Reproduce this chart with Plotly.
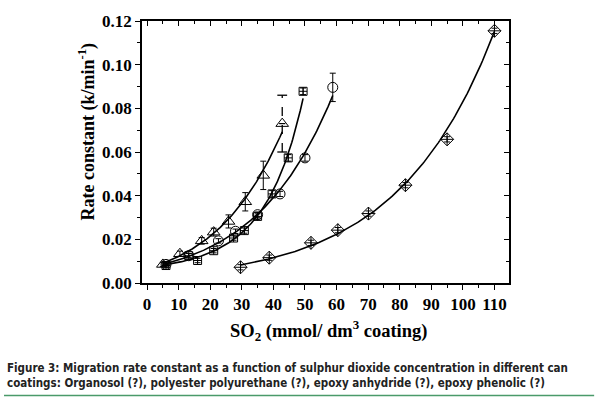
import numpy as np
import plotly.graph_objects as go

# ---- data ----
tri_x = [5.0, 10.4, 17.3, 21.1, 25.8, 31.1, 36.8, 42.8]
tri_y = [0.0085, 0.0134, 0.0193, 0.0233, 0.0282, 0.0372, 0.0493, 0.0730]
tri_e = [0.001, 0.0012, 0.0015, 0.0018, 0.003, 0.0042, 0.0065, 0.013]

sq_x = [6.0, 13.2, 16.0, 21.1, 27.4, 30.8, 35.0, 39.6, 44.7, 49.4]
sq_y = [0.0080, 0.0125, 0.0103, 0.0148, 0.0206, 0.0240, 0.0305, 0.0408, 0.0573, 0.0878]
sq_e = [0.001, 0.001, 0.001, 0.001, 0.001, 0.0012, 0.0012, 0.0015, 0.0015, 0.0015]

ci_x = [6.0, 13.2, 22.6, 28.0, 35.0, 42.1, 50.0, 58.8]
ci_y = [0.0085, 0.0125, 0.0193, 0.0237, 0.0313, 0.0408, 0.0573, 0.0896]
ci_e = [0.0008, 0.001, 0.001, 0.001, 0.0012, 0.0012, 0.0015, 0.0065]

di_x = [29.6, 38.7, 51.9, 60.4, 70.1, 81.8, 95.0, 110.0]
di_y = [0.0072, 0.0116, 0.0184, 0.0242, 0.0318, 0.0448, 0.0658, 0.1155]
di_e = [0.0012, 0.0012, 0.0012, 0.0012, 0.0012, 0.0012, 0.0012, 0.0012]

x_ticks = [0, 10, 20, 30, 40, 50, 60, 70, 80, 90, 100, 110]
y_ticks = [0.00, 0.02, 0.04, 0.06, 0.08, 0.10, 0.12]

SERIF = "Liberation Serif, Times New Roman, serif"
NARROW = "DejaVu Sans Condensed, Liberation Sans Narrow, Arial Narrow, sans-serif"
fig = go.Figure()


def fit_curve(xs, ys, x0, x1, deg):
    c = np.polyfit(np.array(xs), np.log(np.array(ys)), deg)
    xx = np.linspace(x0, x1, 150)
    return xx, np.exp(np.polyval(c, xx))


curves = [
    (tri_x, tri_y, 5.0, tri_x[-1], 2),
    (sq_x, sq_y, 5.0, sq_x[-1], 2),
    (ci_x, ci_y, 5.0, ci_x[-1], 2),
    (di_x, di_y, di_x[0], di_x[-1], 1),
]
for xs, ys, a0, a1, deg in curves:
    xx, yy = fit_curve(xs, ys, a0, a1, deg)
    fig.add_trace(go.Scatter(x=xx, y=yy, mode="lines",
                             line=dict(color="black", width=1.6),
                             hoverinfo="skip", showlegend=False))

# dashed error bar of the last triangle point
fig.add_trace(go.Scatter(x=[tri_x[-1], tri_x[-1]],
                         y=[tri_y[-1] - tri_e[-1], tri_y[-1] + tri_e[-1]],
                         mode="lines+markers",
                         line=dict(color="black", width=1.3, dash="dash"),
                         marker=dict(symbol="line-ew", size=7, color="black",
                                     line=dict(color="black", width=1.3)),
                         showlegend=False))

tri_err = tri_e[:-1] + [0]


def pts(xs, ys, es, sym, size):
    fig.add_trace(go.Scatter(
        x=xs, y=ys, mode="markers",
        marker=dict(symbol=sym, size=size, color="black",
                    line=dict(color="black", width=1)),
        error_y=dict(type="data", array=es, visible=True, color="black",
                     thickness=1, width=3),
        showlegend=False))


pts(sq_x, sq_y, sq_e, "square-cross-open", 8)
pts(ci_x, ci_y, ci_e, "circle-open", 10)
pts(di_x, di_y, di_e, "diamond-cross-open", 10)
pts(tri_x, tri_y, tri_err, "triangle-up-open", 11)

# invisible trace for the mirrored (inside-tick) axes
fig.add_trace(go.Scatter(x=[0], y=[0], xaxis="x2", yaxis="y2",
                         mode="markers", marker=dict(opacity=0),
                         showlegend=False, hoverinfo="skip"))

XR = [-1.6, 114.6]
YR = [0, 0.12]
axis_font = dict(family=SERIF, size=17, color="black", weight="bold")
fig.update_layout(
    width=600, height=404,
    margin=dict(l=142, r=91, t=15, b=121),
    paper_bgcolor="white", plot_bgcolor="white",
    xaxis=dict(range=XR, tickvals=x_ticks, ticks="outside", ticklen=5,
               tickwidth=1.2, tickcolor="black", showline=True,
               linecolor="black", linewidth=1.5, showgrid=False,
               zeroline=False, tickfont=axis_font,
               minor=dict(dtick=5, tick0=0, ticks="outside", ticklen=3,
                          tickcolor="black")),
    yaxis=dict(range=YR, tickvals=y_ticks, tickformat=".2f", ticks="outside",
               ticklen=5, tickwidth=1.2, tickcolor="black", showline=True,
               linecolor="black", linewidth=1.5, showgrid=False,
               zeroline=False, tickfont=axis_font,
               minor=dict(dtick=0.01, tick0=0, ticks="outside", ticklen=3,
                          tickcolor="black")),
    xaxis2=dict(range=XR, overlaying="x", side="top", anchor="y",
                tickvals=x_ticks, ticks="inside", ticklen=5, tickcolor="black",
                showticklabels=False, showline=True, linecolor="black",
                linewidth=1.5, showgrid=False, zeroline=False,
                minor=dict(dtick=5, tick0=0, ticks="inside", ticklen=3,
                           tickcolor="black")),
    yaxis2=dict(range=YR, overlaying="y", side="right", anchor="x",
                tickvals=y_ticks, ticks="inside", ticklen=5, tickcolor="black",
                showticklabels=False, showline=True, linecolor="black",
                linewidth=1.5, showgrid=False, zeroline=False,
                minor=dict(dtick=0.01, tick0=0, ticks="inside", ticklen=3,
                           tickcolor="black")),
)

# axis titles
fig.add_annotation(xref="paper", yref="paper", x=0.507, y=-0.183,
                   xanchor="center", yanchor="middle", showarrow=False,
                   text="<b>SO<sub>2</sub> (mmol/ dm<sup>3</sup> coating)</b>",
                   font=dict(family=SERIF, size=18.5, color="black"))
fig.add_annotation(xref="paper", yref="paper", x=-0.150, y=0.578,
                   xanchor="center", yanchor="middle", showarrow=False,
                   textangle=-90,
                   text="<b>Rate constant (k/min<sup>-1</sup>)</b>",
                   font=dict(family=SERIF, size=18, color="black"))

# caption
fig.add_annotation(
    xref="paper", yref="paper", x=-0.373, y=-0.354, xanchor="left",
    yanchor="middle", align="left", showarrow=False,
    text=("<b>Figure 3: Migration rate constant as a function of sulphur dioxide concentration in different can<br>"
          "coatings: Organosol (?), polyester polyurethane (?), epoxy anhydride (?), epoxy phenolic (?)</b>"),
    font=dict(family=NARROW, size=11.5, color="#222"))

fig.add_shape(type="line", xref="paper", yref="paper",
              x0=-0.376, x1=1.232, y0=-0.429, y1=-0.429,
              line=dict(color="#4a9a6a", width=1.5))

fig.write_html("out.html", config={"displayModeBar": False},
               post_script="document.body.style.margin='0';document.body.style.padding='0';")
